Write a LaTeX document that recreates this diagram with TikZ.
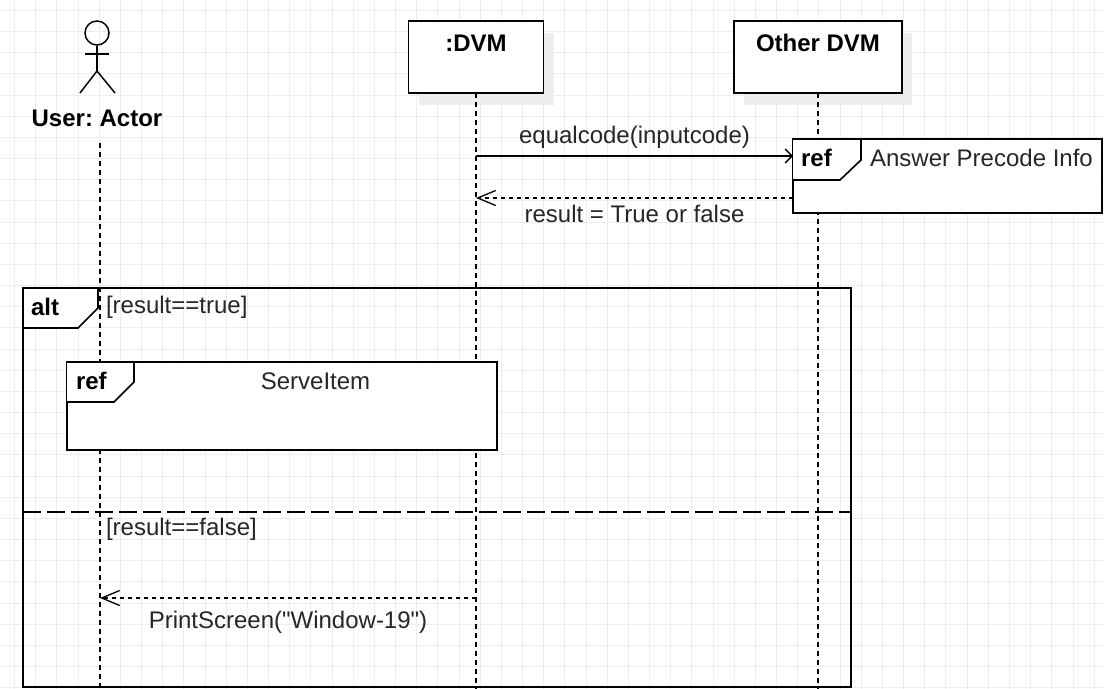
\documentclass[tikz,border=0pt]{standalone}
\usepackage{fontspec}
\setmainfont{Liberation Sans}
\newfontfamily\straightfont{Liberation Sans}[Ligatures=TeXOff]
\frenchspacing
\usetikzlibrary{arrows.meta,shadows}

\begin{document}
\begin{tikzpicture}[
  x=0.5pt, y=-0.5pt,
  font=\fontsize{12}{14}\selectfont,
  gridline/.style={draw=black!7, line width=0.5pt},
  participant/.style={rectangle, draw, line width=0.8pt, fill=white, minimum height=36pt, outer sep=0pt,
    drop shadow={shadow xshift=5pt, shadow yshift=-6pt, fill=black!7, opacity=1}},
  stick/.style={line width=0.75pt},
  lifeline/.style={line width=0.65pt, dash pattern=on 2.5pt off 2pt},
  sdframe/.style={rectangle, draw, line width=0.8pt, outer sep=0pt, anchor=north west},
  refframe/.style={sdframe, fill=white},
  frametab/.style={draw, line width=0.8pt, fill=white},
  divider/.style={line width=0.8pt, dash pattern=on 9pt off 3pt},
  msg/.style={line width=0.65pt, -{Straight Barb[length=3.5pt,width=7pt]}},
  reply/.style={line width=0.65pt, dash pattern=on 2pt off 2pt, -{Straight Barb[length=9pt,width=7.5pt]}},
  tag/.style={font=\fontsize{12}{14}\selectfont\bfseries, anchor=west},
  guard/.style={anchor=west, text=black!85},
  lbl/.style={text=black!85}
]
\useasboundingbox (0,0) rectangle (1104,689);
\fill[white] (0,0) rectangle (1104,689);

% Grid
\foreach \i in {0,...,52} \draw[gridline] (14.5+21.17*\i,0) -- (14.5+21.17*\i,689);
\foreach \j in {0,...,32} \draw[gridline] (0,10.4+21.17*\j) -- (1104,10.4+21.17*\j);

% Participants
\node[participant, minimum width=67.5pt] (dvm) at (476,57) {};
\node[font=\fontsize{12}{14}\selectfont\bfseries] (dvmname) at (476,43) {:DVM};
\node[participant, minimum width=84pt] (other) at (818,57) {};
\node[font=\fontsize{12}{14}\selectfont\bfseries] (othername) at (818,43) {Other DVM};

% Actor
\node[circle, draw, line width=0.75pt, minimum size=12pt, inner sep=0pt] (head) at (97,33) {};
\coordinate (hip) at (97,71);
\draw[stick] (head.south) -- (hip);
\draw[stick] (85,54) -- (109,54);
\draw[stick] (80,93) -- (hip) -- (115,93);
\node[font=\fontsize{12}{14}\selectfont\bfseries] (user) at (97,118) {User: Actor};

% Lifelines
\coordinate (usertop) at (100,143);
\coordinate (userend) at (100,689);
\coordinate (dvmend) at (476,689);
\coordinate (otherend) at (818,689);
\draw[lifeline] (usertop) -- (userend);
\draw[lifeline] (dvm.south) -- (dvmend);
\draw[lifeline] (other.south) -- (otherend);

% alt fragment
\node[sdframe, minimum width=414pt, minimum height=199.5pt] (alt) at (23,288) {};
\filldraw[frametab] (alt.north west) -- ++(75,0) -- ++(0,20) -- ++(-20,20) -- ++(-55,0) -- cycle;
\node[tag] (alttag) at ([shift={(1,19)}]alt.north west) {alt};
\node[guard] (guardtrue) at ([shift={(76,19)}]alt.north west) {[result==true]};
\coordinate (splitl) at (23,512);
\coordinate (splitr) at (851,512);
\draw[divider] (splitl) -- (splitr);
\node[guard] (guardfalse) at (99,529) {[result==false]};

% ref: Answer Precode Info
\node[refframe, minimum width=154.5pt, minimum height=37pt] (apref) at (793,139) {};
\draw[frametab] (apref.north west) -- ++(68,0) -- ++(0,21) -- ++(-21,20) -- ++(-47,0);
\node[tag] (apreftag) at ([shift={(1,19)}]apref.north west) {ref};
\node[lbl, anchor=west] (apreftext) at ([shift={(70,19)}]apref.north west) {Answer Precode Info};

% ref: ServeItem
\node[refframe, minimum width=215pt, minimum height=44pt] (serve) at (67,362) {};
\draw[frametab] (serve.north west) -- ++(67,0) -- ++(0,20) -- ++(-20,20) -- ++(-47,0);
\node[tag] (servetag) at ([shift={(2,19)}]serve.north west) {ref};
\node[lbl] (servetext) at (315.5,381) {ServeItem};

% Messages
\coordinate (eqstart) at (476,156);
\draw[msg] (eqstart) -- (eqstart -| apref.west) node[midway, above=0pt, lbl] {equalcode(inputcode)};
\coordinate (resstart) at (793,198);
\draw[reply] (resstart) -- (resstart -| dvm.south) node[midway, below=0pt, lbl] {result = True or false};
\coordinate (printstart) at (476,598);
\draw[reply] (printstart) -- (printstart -| usertop) node[midway, below=3pt, lbl] {\straightfont PrintScreen("Window-19")};
\end{tikzpicture}
\end{document}
